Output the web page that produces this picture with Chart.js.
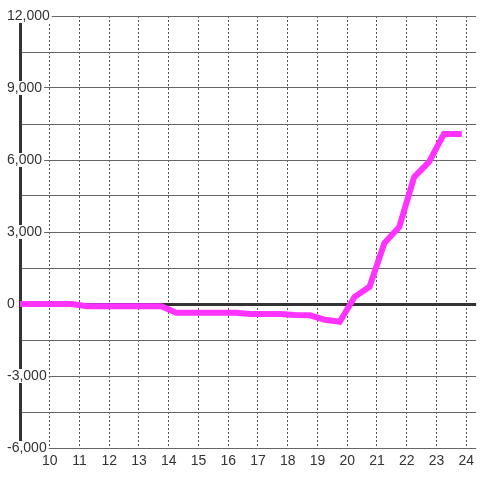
<!DOCTYPE html>
<html>
<head>
<meta charset="utf-8">
<script src="https://cdn.jsdelivr.net/npm/chart.js@4"></script>
<style>
  html, body { margin: 0; padding: 0; background: #fff; }
</style>
</head>
<body>
<canvas id="myChart" width="480" height="480"></canvas>
<script>
// times in hours, value per point
const times = [
  9.0, 9.25, 9.75, 10.25, 10.75, 11.25, 11.75, 12.25, 12.75, 13.25, 13.75,
  14.25, 14.75, 15.25, 15.75, 16.25, 16.75, 17.25, 17.75, 18.25, 18.75,
  19.25, 19.75, 20.25, 20.75, 21.25, 21.75, 22.25, 22.75, 23.25, 23.75,
];
const values = [
  0, 0, 0, 0, 0, -90, -90, -90, -90, -90, -90,
  -360, -360, -360, -360, -360, -420, -420, -420, -460, -470,
  -660, -740, 300, 720, 2540, 3210, 5290, 5920, 7080, 7080,
];
const hourTicks = [10, 11, 12, 13, 14, 15, 16, 17, 18, 19, 20, 21, 22, 23, 24];
const yMin = -6000;
const yMax = 12000;

const ctx = document.getElementById("myChart");
const font = { family: "'Liberation Sans', Arial, sans-serif", size: 14, lineHeight: 1 };

new Chart(ctx, {
  type: "line",
  data: {
    datasets: [
      {
        data: times.map((t, i) => ({ x: t, y: values[i] })),
        borderColor: "#ff33ff",
        borderWidth: 6,
        borderCapStyle: "square",
        borderJoinStyle: "miter",
        pointRadius: 0,
        tension: 0,
      },
    ],
  },
  options: {
    responsive: false,
    animation: false,
    layout: { padding: { left: 6, right: 0, top: 16, bottom: 0 } },
    plugins: { legend: { display: false }, tooltip: { enabled: false } },
    scales: {
      x: {
        type: "linear",
        min: 9,
        max: 24 + 1 / 3,
        afterBuildTicks: (scale) => {
          scale.ticks = hourTicks.map((v) => ({ value: v }));
        },
        afterFit: (scale) => {
          scale.height = 32;
        },
        grid: {
          color: "#555",
          lineWidth: 1,
          drawTicks: false,
        },
        border: { display: false, dash: [2, 2] },
        ticks: {
          autoSkip: false,
          maxRotation: 0,
          padding: 6,
          color: "#333",
          font: font,
          callback: (v) => String(v),
        },
      },
      y: {
        min: yMin,
        max: yMax,
        afterFit: (scale) => {
          scale.width = 14;
        },
        grid: {
          color: (c) => (c.tick && c.tick.value === 0 ? "#333" : "#666"),
          lineWidth: (c) => (c.tick && c.tick.value === 0 ? 3 : 1),
          drawTicks: false,
        },
        border: { display: true, color: "#333", width: 3 },
        ticks: {
          stepSize: 1500,
          autoSkip: false,
          mirror: true,
          crossAlign: "near",
          padding: -13,
          color: "#333",
          font: font,
          showLabelBackdrop: (c) => c.tick && c.tick.value % 3000 === 0,
          backdropColor: "#fff",
          backdropPadding: { left: 2, right: 2, top: 0, bottom: 0 },
          callback: (v) => (v % 3000 === 0 ? v.toLocaleString("en-US") : ""),
        },
      },
    },
  },
});
</script>
</body>
</html>
